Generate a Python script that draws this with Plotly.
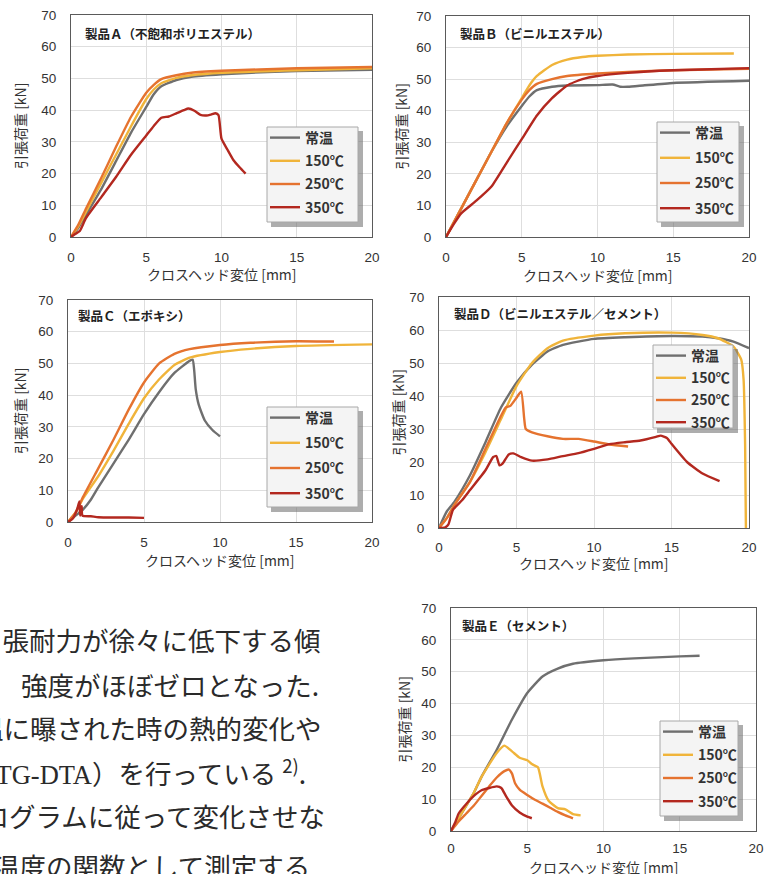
import plotly.graph_objects as go

W, H = 773, 874

# ---------------- data ----------------
SERIES_NAMES = ["常温", "150℃", "250℃", "350℃"]
SERIES_COLORS = ["#6f6f6f", "#f0b43a", "#e5732f", "#b3281f"]

PANEL_TITLES = ["製品Ａ（不飽和ポリエステル）", "製品Ｂ（ビニルエステル）", "製品Ｃ（エポキシ）",
                "製品Ｄ（ビニルエステル／セメント）", "製品Ｅ（セメント）"]
X_TICKS = [0, 5, 10, 15, 20]
Y_TICKS = [0, 10, 20, 30, 40, 50, 60, 70]
X_TITLE = "クロスヘッド変位 [mm]"
Y_TITLE = "引張荷重 [kN]"

# Panel A
A_rt_x = [0, 0.5, 1, 2, 3, 4, 5, 5.5, 6, 7, 8, 10, 12, 15, 20]
A_rt_y = [0, 3, 7, 15, 24, 33, 41, 45, 47.5, 49.5, 50.5, 51.3, 51.8, 52.3, 52.7]
A_150_x = [0, 0.5, 1, 2, 3, 4, 5, 5.5, 6, 7, 8, 10, 15, 20]
A_150_y = [0, 3.5, 8, 17, 26, 35, 43.5, 46.5, 48.5, 50.2, 51, 51.8, 52.6, 53.2]
A_250_x = [0, 0.5, 1, 2, 3, 4, 5, 5.5, 6, 7, 8, 10, 15, 20]
A_250_y = [0, 4, 9, 18.5, 28.5, 38, 45.5, 48, 49.8, 51, 51.8, 52.4, 53.2, 53.6]
A_350_x = [0, 0.3, 0.6, 1, 2, 3, 4, 5, 5.5, 6, 6.5, 7, 7.5, 7.8, 8.2, 8.6, 9, 9.3, 9.6, 9.8, 10.0, 10.4, 10.8, 11.2, 11.6]
A_350_y = [0, 1, 2, 6, 12.5, 19, 26, 32, 35, 37.6, 38, 39, 40, 40.5, 39.8, 38.5, 38.3, 38.6, 39, 38.4, 31, 27.5, 24.2, 22, 20]

# Panel B
B_rt_x = [0, 1, 2, 3, 4, 5, 5.5, 6, 7, 8, 10, 11, 11.5, 12, 13, 15, 20]
B_rt_y = [0, 9, 18, 27, 35, 41.5, 44.5, 46.5, 47.6, 48, 48.1, 48.3, 47.6, 47.6, 48, 48.8, 49.5]
B_150_x = [0, 1, 2, 3, 4, 5, 5.5, 6, 7, 8, 9, 10, 12, 15, 19]
B_150_y = [0, 9, 18, 27, 36, 44, 48, 51, 54.5, 56.2, 57, 57.4, 57.8, 58, 58.1]
B_250_x = [0, 1, 2, 3, 4, 5, 5.5, 6, 7, 8, 10, 12, 15, 20]
B_250_y = [0, 9, 18, 27, 36, 43.5, 46.5, 48.5, 50, 51, 51.8, 52.3, 52.8, 53.3]
B_350_x = [0, 0.5, 1, 2, 3, 4, 5, 6, 7, 8, 9, 10, 12, 15, 20]
B_350_y = [0, 4, 7.5, 11.5, 16, 23.5, 31, 38.5, 44, 48, 50, 51, 52, 52.8, 53.5]

# Panel C
C_rt_x = [0, 0.5, 1, 1.5, 2, 3, 4, 5, 6, 7, 8, 8.2, 8.3, 8.4, 8.6, 9, 9.5, 10]
C_rt_y = [0, 2, 4, 7, 11, 18.5, 26, 34, 41, 47, 50.8, 51.2, 48, 42, 37, 32, 29, 27]
C_150_x = [0, 0.5, 1, 2, 3, 4, 5, 6, 7, 8, 10, 12, 15, 20]
C_150_y = [0, 3, 7.5, 14.5, 22.5, 31, 39, 45, 49.5, 51.8, 53.6, 54.6, 55.5, 56]
C_250_x = [0, 0.5, 1, 2, 3, 4, 5, 6, 7, 8, 10, 12, 15, 17.5]
C_250_y = [0, 3, 8, 17, 26, 35.5, 44, 50, 53, 54.5, 55.8, 56.5, 57, 56.9]
C_350_x = [0, 0.3, 0.6, 0.75, 0.8, 0.9, 0.95, 1.5, 2, 3, 4, 5]
C_350_y = [0, 1, 4, 6.5, 2, 5, 2, 1.8, 1.5, 1.4, 1.4, 1.3]

# Panel D
D_rt_x = [0, 0.5, 1, 2, 3, 4, 5, 6, 7, 8, 10, 12, 15, 17, 18, 19, 20]
D_rt_y = [0, 5, 8, 16, 26, 36.5, 44, 49.5, 53.5, 55.5, 57.3, 57.8, 58.2, 58, 57.5, 56.5, 54.5]
D_150_x = [0, 0.5, 1, 2, 3, 4, 5, 6, 7, 8, 10, 12, 15, 17, 18, 19, 19.5, 19.65, 19.75, 19.8]
D_150_y = [0, 3, 7, 14, 23, 33, 43, 50, 54.5, 56.8, 58.3, 59, 59.2, 58.5, 57.5, 55, 51, 45, 25, 0]
D_250_x = [0, 0.5, 1, 2, 3, 4, 4.3, 4.6, 5, 5.3, 5.5, 5.6, 6, 7, 8, 9, 10, 11, 12.2]
D_250_y = [0, 3, 7, 14, 24, 34, 36.5, 37, 39.5, 41.3, 33, 30, 29, 27.8, 27, 27, 26.2, 25.3, 24.7]
D_350_x = [0, 0.4, 0.6, 0.9, 1.5, 2, 3, 3.5, 3.7, 3.9, 4.1, 4.5, 4.8, 5.3, 6, 7, 8, 9, 10, 11, 12, 13, 14, 14.3, 14.7, 15, 16, 17, 18.1]
D_350_y = [0, 0.2, 1, 5.5, 8.5, 11.5, 17.5, 21.5, 21.8, 19, 19.5, 22.3, 22.6, 21.5, 20.4, 20.8, 21.8, 22.7, 24, 25.4, 26, 26.5, 27.6, 28, 27.3, 25.5, 20, 16.5, 14.2]

# Panel E
E_rt_x = [0, 0.5, 1, 1.5, 2, 3, 4, 5, 6, 7, 8, 10, 12, 15, 16.3]
E_rt_y = [0, 4, 8, 12, 17, 25.5, 35, 43.3, 48.5, 51, 52.5, 53.6, 54.2, 54.8, 55]
E_150_x = [0, 0.5, 1, 1.5, 2, 3, 3.5, 4, 4.5, 5, 5.3, 5.7, 6, 6.4, 7, 7.5, 8, 8.5]
E_150_y = [0, 4, 8, 12, 17, 24.5, 26.8, 25, 23, 22.2, 21, 20, 14, 9.5, 7.2, 6.8, 5.3, 4.9]
E_250_x = [0, 0.5, 1, 1.5, 2, 2.5, 3, 3.5, 3.8, 4.0, 4.2, 4.5, 5, 5.5, 6, 6.5, 7, 7.5, 8]
E_250_y = [0, 3, 5.5, 8, 11, 14, 16.8, 18.8, 19.3, 18, 15, 13, 11.3, 9.8, 8.6, 7.3, 6, 4.9, 4.0]
E_350_x = [0, 0.3, 0.5, 1, 1.5, 2, 2.5, 3, 3.3, 3.6, 4, 4.5, 5, 5.3]
E_350_y = [0, 3, 5.5, 8.5, 11, 12.8, 13.5, 14, 13.5, 11, 8, 5.8, 4.5, 4.0]

BODY_LINES = ["引張耐力が徐々に低下する傾", "強度がほぼゼロとなった.", "温に曝された時の熱的変化や",
              "（<span style=\"font-family:Liberation Serif\">TG-DTA</span>）を行っている <sup>2)</sup>.",
              "プログラムに従って変化させな", "温度の関数として測定する"]

PANEL_DATA = [
    [(A_rt_x, A_rt_y), (A_150_x, A_150_y), (A_250_x, A_250_y), (A_350_x, A_350_y)],
    [(B_rt_x, B_rt_y), (B_150_x, B_150_y), (B_250_x, B_250_y), (B_350_x, B_350_y)],
    [(C_rt_x, C_rt_y), (C_150_x, C_150_y), (C_250_x, C_250_y), (C_350_x, C_350_y)],
    [(D_rt_x, D_rt_y), (D_150_x, D_150_y), (D_250_x, D_250_y), (D_350_x, D_350_y)],
    [(E_rt_x, E_rt_y), (E_150_x, E_150_y), (E_250_x, E_250_y), (E_350_x, E_350_y)],
]

# ---------------- layout (pixel boxes) ----------------
PLOT_BOX = [(71, 372, 15, 237), (446, 749, 16, 237), (68, 372, 300, 522),
            (439, 749, 297, 528), (451, 756, 608, 831)]
LEGEND_BOX = [(267, 358, 127, 222), (657, 739, 122, 222), (267, 358, 407, 507),
              (653, 733, 345, 428), (660, 738, 721, 816)]
LEGEND_GAP = [2, 4, 4, 1, 2]
LEGEND_FONT = [14, 14, 14, 14, 14]
TITLE_POS = [(83, 33), (458, 33), (76, 315), (452, 313), (460, 625)]
XTITLE_Y = [274, 275, 560, 563, 867]
YTITLE_X = [20, 400, 20, 397, 403]
XTICK_STANDOFF = [8, 8, 8, 7, 5]


def px(x):
    return x / W


def py(y):
    return 1 - y / H


fig = go.Figure()
annotations = []
shapes = []
layout_kw = {}
TICK_FONT = dict(family="Liberation Sans, Arial", size=13.5, color="#333")
CJK = "Noto Sans CJK JP"

for i in range(5):
    sfx = "" if i == 0 else str(i + 1)
    l, r, t, b = PLOT_BOX[i]
    leg = "legend" if i == 0 else f"legend{i + 1}"
    for k, (xs, ys) in enumerate(PANEL_DATA[i]):
        fig.add_trace(go.Scatter(
            x=xs, y=ys, mode="lines", name=SERIES_NAMES[k],
            line=dict(color=SERIES_COLORS[k], width=2.4, shape="spline", smoothing=0.5),
            xaxis="x" + sfx, yaxis="y" + sfx, legend=leg, legendgroup=f"g{i}{k}",
        ))
    layout_kw["xaxis" + sfx] = dict(
        domain=[px(l), px(r)], range=[0, 20], tickvals=X_TICKS, anchor="y" + sfx,
        showgrid=True, gridcolor="#dedede", gridwidth=1, zeroline=False,
        showline=True, mirror=True, linecolor="#5a5a5a", linewidth=1,
        ticks="", tickfont=TICK_FONT, ticklabelstandoff=XTICK_STANDOFF[i], automargin=False,
    )
    layout_kw["yaxis" + sfx] = dict(
        domain=[py(b), py(t)], range=[0, 70], tickvals=Y_TICKS, anchor="x" + sfx,
        showgrid=True, gridcolor="#dedede", gridwidth=1, zeroline=False,
        showline=True, mirror=True, linecolor="#5a5a5a", linewidth=1,
        ticks="", tickfont=TICK_FONT, ticklabelstandoff=11, automargin=False,
    )
    ll, lr, lt, lb = LEGEND_BOX[i]
    # legend frame with drop shadow
    shapes.append(dict(type="rect", xref="paper", yref="paper",
                       x0=px(ll + 4), x1=px(lr + 5), y0=py(lb + 5), y1=py(lt + 4),
                       fillcolor="rgba(105,105,105,0.55)", line=dict(width=0), layer="above"))
    shapes.append(dict(type="rect", xref="paper", yref="paper",
                       x0=px(ll), x1=px(lr), y0=py(lb), y1=py(lt),
                       fillcolor="#f4f4f4", line=dict(color="#a8a8a8", width=1), layer="above"))
    layout_kw[leg] = dict(
        x=px(ll - 2), y=py(lt - 5), xanchor="left", yanchor="top",
        bgcolor="rgba(0,0,0,0)", borderwidth=0,
        font=dict(family=CJK, size=LEGEND_FONT[i], color="#333", weight="bold"),
        tracegroupgap=LEGEND_GAP[i], itemwidth=30, traceorder="grouped",
    )
    # panel title
    tx, ty = TITLE_POS[i]
    annotations.append(dict(text=PANEL_TITLES[i], xref="paper", yref="paper",
                            x=px(tx), y=py(ty), xanchor="left", yanchor="middle", showarrow=False,
                            font=dict(family=CJK, size=12.5, color="#222", weight="bold")))
    # axis titles
    annotations.append(dict(text=X_TITLE, xref="paper", yref="paper",
                            x=px((l + r) / 2), y=py(XTITLE_Y[i]), xanchor="center", yanchor="middle",
                            showarrow=False, font=dict(family=CJK, size=14, color="#333")))
    annotations.append(dict(text=Y_TITLE, xref="paper", yref="paper", textangle=-90,
                            x=px(YTITLE_X[i]), y=py((t + b) / 2), xanchor="center", yanchor="middle",
                            showarrow=False, font=dict(family=CJK, size=14, color="#333")))

# body text fragment (bottom-left, clipped by the page edge as in the source)
BODY_RIGHT = [323, 321, 324, 308, 327, 312]
BODY_Y = [639, 684, 727, 771, 815, 865]
for j, line in enumerate(BODY_LINES):
    annotations.append(dict(text=line, xref="paper", yref="paper",
                            x=px(BODY_RIGHT[j]), y=py(BODY_Y[j]), xanchor="right", yanchor="middle",
                            showarrow=False,
                            font=dict(family=CJK, size=26.5, color="#2a2a2a")))

fig.update_layout(
    width=W, height=H, margin=dict(l=0, r=0, t=0, b=0, pad=0, autoexpand=False),
    paper_bgcolor="white", plot_bgcolor="white",
    showlegend=True, annotations=annotations, shapes=shapes, **layout_kw,
)

fig.write_html(
    "out.html",
    config={"displayModeBar": False},
    post_script="document.body.style.margin='0';document.body.style.overflow='hidden';",
)
